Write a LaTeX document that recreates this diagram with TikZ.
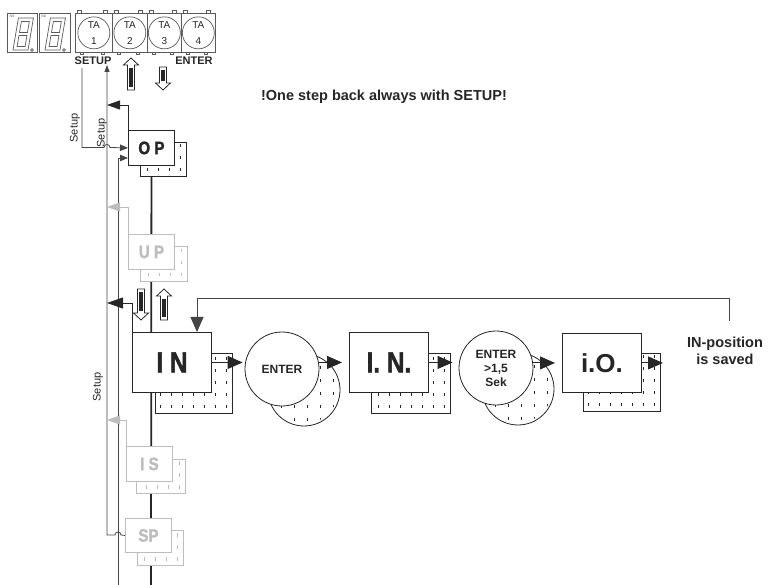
\documentclass[tikz,border=0pt]{standalone}
\usepackage{fontspec}
\setmainfont{Liberation Sans}
\newfontfamily\condfont{Liberation Sans}[FakeStretch=0.84,FakeBold=1.6]
\usetikzlibrary{arrows.meta,calc,backgrounds}
\definecolor{ink}{HTML}{262626}
\definecolor{mid}{HTML}{444444}
\definecolor{lgray}{HTML}{BDBDBD}
\definecolor{keyg}{HTML}{5A5A5A}

\newcommand\shadowrect[5]{%
  \draw[#5, line width=0.9pt, fill=white] (#1,#2) rectangle (#3,#4);
  \begin{scope}
    \clip (#1,#2) rectangle (#3,#4);
    \foreach \yy in {8,20,32,44,56} {
      \foreach \xx in {6,17,...,96} {
        \draw[#5, line width=1pt] (#3-\xx,#4-\yy) -- ++(0,3.5);
      }
    }
  \end{scope}
}
\newcommand\shadowcirc[4]{%
  \draw[ink, line width=0.8pt, fill=white] (#1,#2) circle (#3);
  \begin{scope}
    \clip (#1,#2) circle (#3-2);
    \foreach \yy in {-24,-11,...,36} {
      \foreach \xx in {-36,-23,...,36} {
        \draw[ink, line width=1pt] (#1+\xx,#2+\yy) -- ++(0,3.5);
      }
    }
  \end{scope}
}
\newcommand\hollowdown[3]{%
  \draw[ink, line width=0.8pt, fill=white] (#1-3.5,#2) -- (#1+3.5,#2) -- (#1+3.5,#3-7) -- (#1+7.5,#3-7) -- (#1,#3) -- (#1-7.5,#3-7) -- (#1-3.5,#3-7) -- cycle;
  \fill[ink] (#1-1.6,#2+3) rectangle (#1+1.6,#3-9);
}
\newcommand\hollowup[3]{%
  \draw[ink, line width=0.8pt, fill=white] (#1,#2) -- (#1+7.5,#2+7) -- (#1+3.5,#2+7) -- (#1+3.5,#3) -- (#1-3.5,#3) -- (#1-3.5,#2+7) -- (#1-7.5,#2+7) -- cycle;
  \fill[ink] (#1-1.6,#2+10) rectangle (#1+1.6,#3-3);
}

\begin{document}
\begin{tikzpicture}[x=1pt,y=-1pt,
  box/.style={draw=ink, line width=0.9pt, fill=white, inner sep=0pt, anchor=north west, text=ink},
  gbox/.style={box, draw=lgray, text=lgray},
  smallfont/.style={font=\condfont\bfseries\fontsize{18}{18}\selectfont},
  bigfont/.style={font=\condfont\bfseries\fontsize{29}{29}\selectfont},
  keybox/.style={draw=keyg, line width=0.7pt, fill=white, inner sep=0pt, anchor=north west},
  keycirc/.style={circle, draw=keyg, line width=0.7pt, minimum size=32, inner sep=0pt, align=center, font=\fontsize{10}{16}\selectfont, text=ink},
  wire/.style={draw=mid, line width=0.8pt},
  gwire/.style={draw=lgray, line width=0.9pt},
  tipS/.style={-{Triangle[length=8pt,width=6.5pt]}},
  tipT/.style={-{Triangle[length=7pt,width=5pt]}},
  tipM/.style={-{Triangle[length=13pt,width=9pt]}},
  tipB/.style={-{Triangle[length=15pt,width=13pt]}},
  flow/.style={draw=ink, line width=0.9pt, tipB},
  lbl/.style={font=\bfseries\fontsize{14.5}{17}\selectfont, text=ink, align=center},
  setuplbl/.style={rotate=90, font=\fontsize{11}{13}\selectfont, text=ink},
  circ/.style={circle, draw=ink, line width=0.8pt, fill=white, minimum size=74, inner sep=0pt, align=center, text=ink, font=\bfseries\fontsize{12}{14}\selectfont}
]
\useasboundingbox (0,0) rectangle (769,585);

% ---------- display ----------
\draw[keyg, line width=0.7pt] (7,13) rectangle (37,52) (39,13) rectangle (70,52);
\foreach \bx in {13,45} {
  \begin{scope}[shift={(\bx,50)}, xslant=0.17]
    \draw[keyg, line width=0.7pt] (0,0) rectangle (15,-32) (3.5,-3.5) rectangle (11.5,-14.5) (3.5,-17.5) rectangle (11.5,-28.5);
  \end{scope}
  \draw[keyg, line width=0.6pt] (\bx+19,50) circle (1.4);
}
\node[font=\fontsize{3.5}{4}\selectfont, text=keyg, inner sep=0pt] (ns) at (12,16) {NS};
\node[font=\fontsize{3.5}{4}\selectfont, text=keyg, inner sep=0pt] (nu) at (44,16) {NU};

% ---------- keys ----------
\foreach \xa/\w in {75/37,112/35,147/34,181/34} {
  \draw[keyg, line width=0.6pt] (\xa+2,10) rectangle ++(4,3) (\xa+\w-9,10) rectangle ++(4,3);
  \draw[keyg, line width=0.6pt] (\xa+5,52) rectangle ++(3,2.5) (\xa+\w-11,52) rectangle ++(3,2.5);
}
\node[keybox, minimum width=37, minimum height=39] (k1) at (75,13) {};
\node[keybox, minimum width=35, minimum height=39] (k2) at (112,13) {};
\node[keybox, minimum width=34, minimum height=39] (k3) at (147,13) {};
\node[keybox, minimum width=34, minimum height=39] (k4) at (181,13) {};
\node[keycirc] (c1) at (k1.center) {TA\\1};
\node[keycirc] (c2) at (k2.center) {TA\\2};
\node[keycirc] (c3) at (k3.center) {TA\\3};
\node[keycirc] (c4) at (k4.center) {TA\\4};
\node[font=\bfseries\fontsize{11}{12}\selectfont, text=ink] (setup) at (93,61) {SETUP};
\node[font=\bfseries\fontsize{11}{12}\selectfont, text=ink] (enter) at (194,61) {ENTER};
\hollowup{131}{58}{90}
\hollowdown{163}{67}{90}

% ---------- note ----------
\node[lbl] (note) at (384,97) {!One step back always with SETUP!};

% ---------- shadows ----------
\shadowrect{140}{142}{186}{176}{ink}
\shadowrect{140}{246}{187}{281}{lgray}
\shadowrect{155}{353}{232}{413}{ink}
\shadowrect{371}{353}{450}{413}{ink}
\shadowrect{583}{353}{660}{411}{ink}
\shadowrect{136}{459}{185}{493}{lgray}
\shadowrect{137}{530}{183}{565}{lgray}
\shadowcirc{304}{390}{36}{}
\shadowcirc{518}{389}{36}{}

% ---------- boxes ----------
\node[box, smallfont, minimum width=46, minimum height=35] (op) at (128,130) {O P};
\node[gbox, smallfont, minimum width=46, minimum height=35] (up) at (128,234) {U P};
\node[box, bigfont, minimum width=79, minimum height=60] (in) at (132,332) {I N};
\node[box, bigfont, minimum width=79, minimum height=60] (inn) at (349,332) {I. N.};
\node[box, font=\bfseries\fontsize{26}{26}\selectfont, minimum width=79, minimum height=59] (io) at (562,333) {i.O.};
\node[gbox, smallfont, minimum width=46, minimum height=35] (is) at (126,446) {I S};
\node[gbox, smallfont, minimum width=46, minimum height=34] (sp) at (125,518) {SP};
\node[circ] (ent1) at (282,369) {ENTER};
\node[circ] (ent2) at (496,368) {ENTER\\>1,5\\Sek};

\hollowdown{141}{289}{320}
\hollowup{164}{289}{320}

% ---------- flow arrows ----------
\draw[flow, shorten >=2pt] (in.east) -- (in.east -| ent1.west);
\draw[flow, shorten >=7pt] (inn.west -| ent1.east) -- (inn.west);
\draw[flow, shorten >=6pt] (inn.east) -- (inn.east -| ent2.west);
\draw[flow, shorten >=7pt] (io.west -| ent2.east) -- (io.west);
\coordinate (ioout) at (663,360);
\draw[flow] (io.east) -- (io.east -| ioout);
\coordinate (fbstart) at (729,321);
\draw[flow, draw=mid] (fbstart) -- (729,298) -- (197,298) -- ($(in.north west)+(65,0)$);
\node[lbl] (saved) at (725,351) {IN-position\\is saved};

% ---------- left return lines ----------
\begin{scope}[on background layer]
  \draw[ink, line width=1.8pt] (op.south) -- (151,585);
  \coordinate (s82) at (82,68);
  \draw[wire, tipS] (s82) -- (82,147.5) -- (104,147.5) .. controls (104,143.5) and (110,143.5) .. (110,147.5) -- (op.west);
  \coordinate (r158) at (118,158);
  \coordinate (bot118) at (118,585);
  \draw[wire, tipS] (bot118) -- (r158) -- (r158 -| op.west);
  \coordinate (up107) at (107,65);
  \draw[wire, tipT] (sp.west) -- (121,535) .. controls (121,531) and (115,531) .. (115,535) -- (107,535) -- (up107);
  \draw[wire, draw=ink, tipM] (op.north west) -- (128,105) -- (107,105);
  \draw[gwire, tipM] (up.north west) -- (128,207) -- (107,207);
  \draw[wire, draw=ink, line width=0.9pt, -{Triangle[length=16pt,width=11pt]}] (in.north west) -- (132,303) -- (107,303);
  \draw[gwire, tipM] (is.north west) -- (126,420) -- (107,420);
\end{scope}
\node[setuplbl] (su1) at (75,128) {Setup};
\node[setuplbl] (su2) at (102,133) {Setup};
\node[setuplbl] (su3) at (98,387) {Setup};
\end{tikzpicture}
\end{document}
